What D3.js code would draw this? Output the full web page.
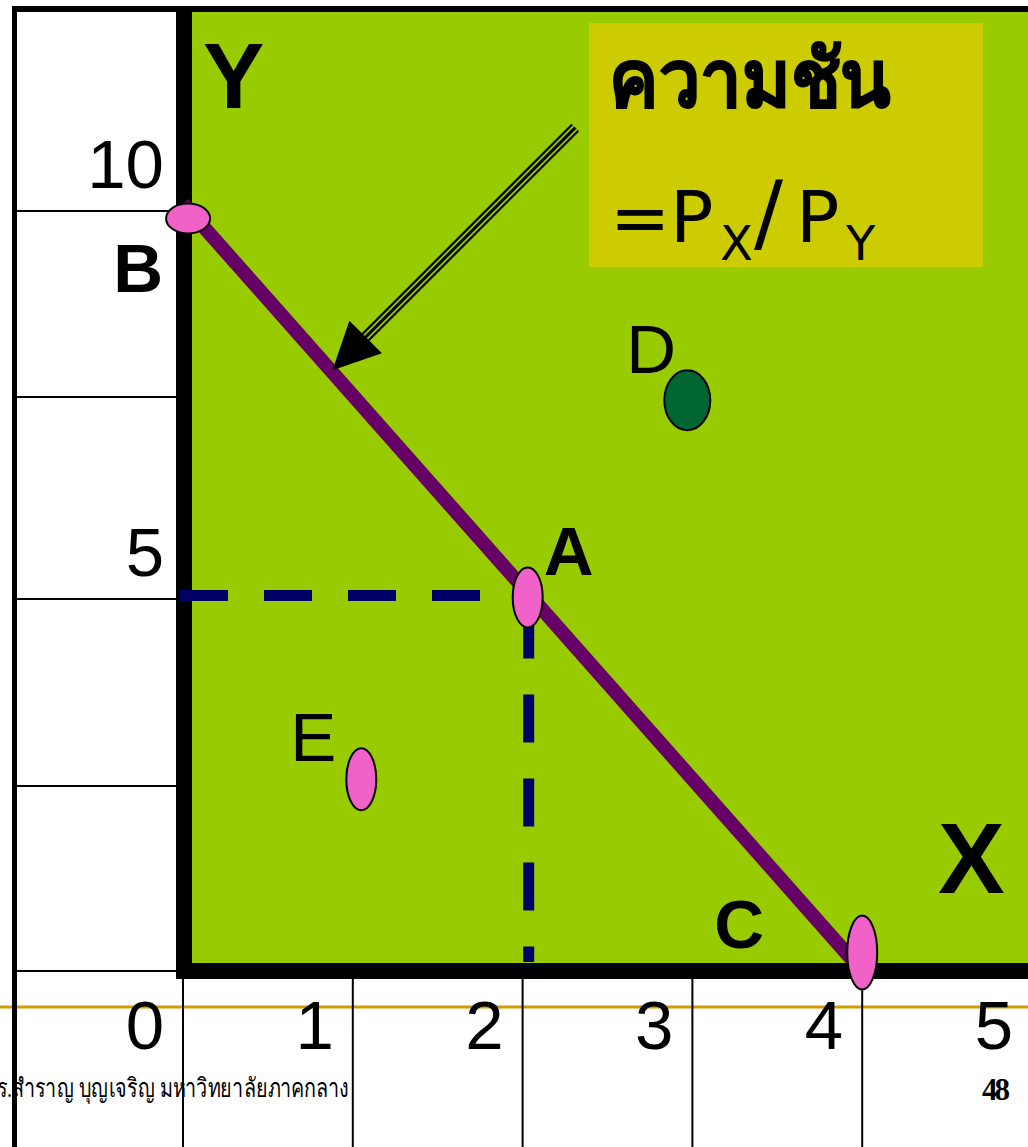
<!DOCTYPE html>
<html>
<head>
<meta charset="utf-8">
<script src="https://cdn.jsdelivr.net/npm/d3@7"></script>
<style>
  html, body { margin: 0; padding: 0; background: #fff; }
  svg { display: block; }
</style>
</head>
<body>
<div id="chart"></div>
<script>
// ---- data ----
const xTicks = [0, 1, 2, 3, 4, 5];
const yTicks = [10, 5];
const yRows = [10, 7.5, 5, 2.5, 0];
const budgetLine = [[0, 10.1], [4, 0]];
const pointNames = ["B", "A", "C", "D", "E"];
const pointX = [0.03, 2.03, 4.0, 2.97, 1.05];
const pointY = [9.9, 5.02, 0.25, 7.46, 2.59];
const bundleA = [2.03, 5.02];
const slopeArrow = [[2.31, 11.12], [0.88, 7.86]];

const width = 1028, height = 1147;

const x = d3.scaleLinear().domain([0, 5]).range([183, 1032]);
const y = d3.scaleLinear().domain([0, 2.5, 5, 7.5, 10]).range([971, 786, 599, 397, 211]);

const svg = d3.select("#chart")
  .append("svg")
  .attr("width", width)
  .attr("height", height);

const sans = "'Liberation Sans', Arial, sans-serif";

// slide template rule
svg.append("rect")
  .attr("x", 0).attr("y", 1005.5).attr("width", width).attr("height", 3)
  .attr("fill", "#d09c00");

// footer (narrow serif on the slide, so squeeze it sideways)
svg.append("text")
  .attr("transform", "translate(-16,1097) scale(0.76,1)")
  .attr("font-family", "'Liberation Serif', serif")
  .attr("font-size", 26)
  .text("ดร.สำราญ บุญเจริญ มหาวิทยาลัยภาคกลาง");

svg.append("text")
  .attr("x", 1010).attr("y", 1100)
  .attr("text-anchor", "end")
  .attr("font-family", "'Liberation Serif', serif")
  .attr("font-weight", "bold")
  .attr("font-size", 31)
  .attr("textLength", 28)
  .text("48");

// plot area
svg.append("rect")
  .attr("x", 192).attr("y", 12).attr("width", width - 192).attr("height", 951)
  .attr("fill", "#99cc00");

// left column rows
svg.append("g")
  .attr("stroke", "#000").attr("stroke-width", 2)
  .selectAll("line")
  .data(yRows)
  .join("line")
  .attr("x1", 17)
  .attr("x2", d => d === 0 ? 183 : 176)
  .attr("y1", d => y(d)).attr("y2", d => y(d));

// bottom row columns
svg.append("g")
  .attr("stroke", "#000").attr("stroke-width", 2)
  .selectAll("line")
  .data(xTicks.filter(d => d < 5))
  .join("line")
  .attr("x1", d => x(d)).attr("x2", d => x(d))
  .attr("y1", 972).attr("y2", height);

// frame
svg.append("rect").attr("x", 12).attr("y", 6).attr("width", width - 12).attr("height", 6).attr("fill", "#000");
svg.append("rect").attr("x", 12).attr("y", 6).attr("width", 5).attr("height", height - 6).attr("fill", "#000");
svg.append("rect").attr("x", 176).attr("y", 12).attr("width", 16).attr("height", 967).attr("fill", "#000");
svg.append("rect").attr("x", 176).attr("y", 963).attr("width", width - 176).attr("height", 16).attr("fill", "#000");

// tick labels
svg.append("g")
  .attr("font-family", sans).attr("font-size", 69).attr("text-anchor", "end")
  .selectAll("text")
  .data(yTicks)
  .join("text")
  .attr("x", 164)
  .attr("y", d => y(d) - 23)
  .text(d => d);

svg.append("g")
  .attr("font-family", sans).attr("font-size", 69).attr("text-anchor", "end")
  .selectAll("text")
  .data(xTicks)
  .join("text")
  .attr("x", d => x(d) - 19)
  .attr("y", 1049)
  .text(d => d);

// axis names
svg.append("text")
  .attr("x", 203).attr("y", 108)
  .attr("font-family", sans).attr("font-weight", "bold").attr("font-size", 92)
  .text("Y");
svg.append("text")
  .attr("x", 938).attr("y", 893)
  .attr("font-family", sans).attr("font-weight", "bold").attr("font-size", 100)
  .text("X");

// dashed guides to A
const dash = svg.append("g")
  .attr("stroke", "#000066").attr("stroke-width", 11).attr("fill", "none")
  .attr("stroke-dasharray", "48,36");
dash.append("line")
  .attr("x1", 180).attr("x2", x(bundleA[0]))
  .attr("y1", y(bundleA[1]) - 2).attr("y2", y(bundleA[1]) - 2);
dash.append("line")
  .attr("x1", x(bundleA[0]) + 1).attr("x2", x(bundleA[0]) + 1)
  .attr("y1", y(bundleA[1]) + 13).attr("y2", 962);

// budget line
svg.append("path")
  .datum(budgetLine)
  .attr("fill", "none")
  .attr("stroke", "#660066")
  .attr("stroke-width", 14)
  .attr("d", d3.line().x(d => x(d[0])).y(d => y(d[1])));

// slope arrow: triple-stripe shaft with solid head
const [a0, a1] = slopeArrow.map(d => [x(d[0]), y(d[1])]);
const dx = a1[0] - a0[0], dy = a1[1] - a0[1];
const len = Math.hypot(dx, dy);
const ux = dx / len, uy = dy / len;
const headLen = 47, headHalf = 23;
const base = [a1[0] - ux * headLen, a1[1] - uy * headLen];
const shaft = d3.line()([a0, [base[0] + ux * 4, base[1] + uy * 4]]);
svg.append("path").attr("d", shaft).attr("stroke", "#000").attr("stroke-width", 11);
svg.append("path").attr("d", shaft).attr("stroke", "#99cc00").attr("stroke-width", 6.5);
svg.append("path").attr("d", shaft).attr("stroke", "#000").attr("stroke-width", 3);
svg.append("path")
  .attr("d", d3.line()([
    a1,
    [base[0] - uy * headHalf, base[1] + ux * headHalf],
    [base[0] + uy * headHalf, base[1] - ux * headHalf]
  ]) + "Z")
  .attr("fill", "#000");

// points
const points = pointNames.map((name, i) => ({ name, px: pointX[i], py: pointY[i] }));
const radius = { B: [22, 15], A: [15, 30], C: [15, 37], D: [23, 30], E: [15, 31] };
const labelOff = { B: [-25, 74, "end", "bold"], A: [16, -22, "start", "bold"], C: [-148, -5, "start", "bold"],
                   D: [-61, -27, "start", "normal"], E: [-71, -18, "start", "normal"] };

svg.append("g")
  .attr("stroke", "#000").attr("stroke-width", 2)
  .selectAll("ellipse")
  .data(points)
  .join("ellipse")
  .attr("cx", d => x(d.px))
  .attr("cy", d => y(d.py))
  .attr("rx", d => radius[d.name][0])
  .attr("ry", d => radius[d.name][1])
  .attr("fill", d => d.name === "D" ? "#006633" : "#f062c8");

svg.append("g")
  .attr("font-family", sans).attr("font-size", 69)
  .selectAll("text")
  .data(points)
  .join("text")
  .attr("x", d => x(d.px) + labelOff[d.name][0])
  .attr("y", d => y(d.py) + labelOff[d.name][1])
  .attr("text-anchor", d => labelOff[d.name][2])
  .attr("font-weight", d => labelOff[d.name][3])
  .text(d => d.name);

// slope legend
svg.append("rect")
  .attr("x", 589).attr("y", 23).attr("width", 394).attr("height", 244)
  .attr("fill", "#cccc00");
svg.append("text")
  .attr("x", 609).attr("y", 107)
  .attr("font-family", "'Noto Sans', 'DejaVu Sans', sans-serif")
  .attr("font-weight", "bold").attr("font-size", 80)
  .attr("stroke", "#000").attr("stroke-width", 1.5)
  .attr("textLength", 282).attr("lengthAdjust", "spacingAndGlyphs")
  .text("ความชัน");

const eq = svg.append("text")
  .attr("y", 242)
  .attr("font-family", "'DejaVu Sans', sans-serif")
  .attr("font-size", 72);
eq.append("tspan").attr("x", 610).text("=");
eq.append("tspan").attr("x", 670).text("P");
eq.append("tspan").attr("x", 720).attr("y", 260).attr("font-size", 48).text("X");
eq.append("tspan").attr("x", 754).attr("y", 242).attr("font-size", 86).text("/");
eq.append("tspan").attr("x", 796).attr("y", 242).text("P");
eq.append("tspan").attr("x", 846).attr("y", 260).attr("font-size", 48).text("Y");
</script>
</body>
</html>
